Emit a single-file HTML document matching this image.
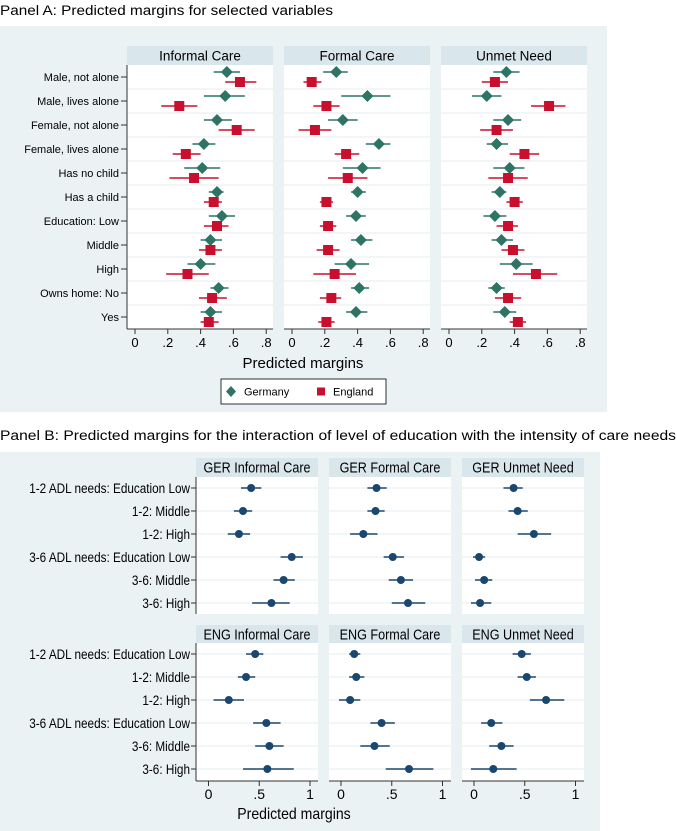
<!DOCTYPE html>
<html><head><meta charset="utf-8"><style>
body{margin:0;background:#fff;}
svg{display:block;font-family:"Liberation Sans",Arial,sans-serif;}
</style></head><body>
<svg id="chart" width="677" height="831" viewBox="0 0 677 831" xmlns="http://www.w3.org/2000/svg">
<text x="0" y="15" font-size="13.5" textLength="333" lengthAdjust="spacingAndGlyphs">Panel A: Predicted margins for selected variables</text>
<rect x="0" y="26" width="607" height="386" fill="#eaf2f3"/>
<text x="0" y="440" font-size="13.5" textLength="676" lengthAdjust="spacingAndGlyphs">Panel B: Predicted margins for the interaction of level of education with the intensity of care needs</text>
<rect x="0" y="452" width="600" height="379" fill="#eaf2f3"/>
<g id="pa"></g><g id="pb"></g>
<text x="303" y="368" font-size="15" text-anchor="middle">Predicted margins</text>
<g>
<rect x="221" y="379" width="165" height="25" fill="#fff" stroke="#000" stroke-width="0.8"/>
<path d="M231 386 L236 391.5 L231 397 L226 391.5Z" fill="#2d7464"/>
<text x="244" y="395.5" font-size="11">Germany</text>
<rect x="317" y="387.5" width="8" height="8" fill="#c8102e"/>
<text x="333" y="395.5" font-size="11">England</text>
</g>
<text x="294" y="819" font-size="16" text-anchor="middle" transform="translate(294 0) scale(0.88 1) translate(-294 0)">Predicted margins</text>
</svg>
<script>
// ---------- Panel A data ----------
const catsA = ["Male, not alone","Male, lives alone","Female, not alone","Female, lives alone","Has no child","Has a child","Education: Low","Middle","High","Owns home: No","Yes"];
const panelsA = ["Informal Care","Formal Care","Unmet Need"];
const gerInformal = [.56,.55,.50,.42,.41,.50,.53,.46,.40,.51,.46];
const gerInformalLo = [.48,.42,.42,.35,.30,.45,.45,.40,.32,.46,.40];
const gerInformalHi = [.64,.67,.59,.49,.52,.54,.61,.53,.49,.57,.53];
const engInformal = [.64,.27,.62,.31,.36,.48,.50,.46,.32,.47,.45];
const engInformalLo = [.55,.16,.51,.23,.21,.42,.42,.39,.19,.39,.40];
const engInformalHi = [.74,.38,.73,.40,.51,.53,.57,.53,.45,.56,.51];
const gerFormal = [.27,.46,.31,.53,.43,.40,.39,.42,.36,.41,.39];
const gerFormalLo = [.19,.30,.22,.45,.31,.36,.33,.36,.26,.36,.33];
const gerFormalHi = [.34,.60,.40,.60,.54,.45,.45,.49,.47,.47,.46];
const engFormal = [.12,.21,.14,.33,.34,.21,.22,.22,.26,.24,.21];
const engFormalLo = [.07,.13,.04,.26,.22,.17,.17,.15,.13,.17,.16];
const engFormalHi = [.18,.29,.24,.41,.46,.25,.27,.29,.39,.30,.26];
const gerUnmet = [.35,.23,.36,.29,.37,.31,.28,.32,.41,.29,.34];
const gerUnmetLo = [.27,.14,.27,.23,.27,.26,.21,.26,.31,.24,.27];
const gerUnmetHi = [.43,.32,.44,.36,.46,.35,.35,.39,.51,.34,.41];
const engUnmet = [.28,.61,.29,.46,.36,.40,.36,.39,.53,.36,.42];
const engUnmetLo = [.20,.50,.19,.37,.24,.35,.29,.32,.39,.28,.37];
const engUnmetHi = [.36,.71,.39,.55,.48,.45,.42,.46,.66,.44,.47];
const ticksA = [0,.2,.4,.6,.8];
const tickLabelsA = ["0",".2",".4",".6",".8"];

// ---------- Panel B data ----------
const catsB = ["1-2 ADL needs: Education Low","1-2: Middle","1-2: High","3-6 ADL needs: Education Low","3-6: Middle","3-6: High"];
const panelsB = ["GER Informal Care","GER Formal Care","GER Unmet Need","ENG Informal Care","ENG Formal Care","ENG Unmet Need"];
const bEst = [
 [.42,.34,.30,.82,.74,.62],
 [.35,.34,.22,.51,.59,.66],
 [.39,.43,.59,.05,.10,.06],
 [.46,.37,.20,.57,.60,.58],
 [.13,.15,.09,.40,.33,.67],
 [.47,.52,.71,.17,.27,.19]];
const bLo = [
 [.32,.25,.19,.71,.64,.43],
 [.26,.26,.09,.42,.47,.50],
 [.29,.34,.43,-.01,.01,-.03],
 [.37,.29,.05,.44,.46,.34],
 [.08,.08,-.02,.29,.19,.44],
 [.38,.43,.55,.07,.15,-.03]];
const bHi = [
 [.52,.43,.41,.93,.85,.80],
 [.45,.43,.36,.62,.71,.83],
 [.48,.53,.76,.11,.18,.17],
 [.54,.46,.35,.71,.74,.84],
 [.19,.23,.19,.53,.48,.91],
 [.56,.61,.89,.28,.39,.42]];
const ticksB = [0,.5,1];
const tickLabelsB = ["0",".5","1"];

const NS="http://www.w3.org/2000/svg";
function mk(parent,tag,attrs){const e=document.createElementNS(NS,tag);for(const k in attrs)e.setAttribute(k,attrs[k]);parent.appendChild(e);return e;}
const GREEN="#2d7464", RED="#c8102e", NAVY="#1a476f";

// Panel A
const pa=document.getElementById('pa');
const aLeft=[127,284,441], aW=146, aTop=65, aBot=329, aHdr=46;
const aRow0=77, aStep=24;
const aX0=[135,292,449], aScale=164;
const seriesA=[[gerInformal,gerInformalLo,gerInformalHi,engInformal,engInformalLo,engInformalHi],
 [gerFormal,gerFormalLo,gerFormalHi,engFormal,engFormalLo,engFormalHi],
 [gerUnmet,gerUnmetLo,gerUnmetHi,engUnmet,engUnmetLo,engUnmetHi]];
panelsA.forEach((name,p)=>{
  const xs=v=>aX0[p]+v*aScale;
  const g=mk(pa,'g',{});
  
  
  const hdr=mk(g,'rect',{x:aLeft[p],y:aHdr,width:aW,height:aTop-aHdr,fill:'#d9e6eb'});
  
  
  const ht=mk(g,'text',{x:aLeft[p]+aW/2,y:aHdr+14.5,'font-size':13.5,'text-anchor':'middle'});ht.textContent=name;
  
  
  mk(g,'rect',{x:aLeft[p],y:aTop,width:aW,height:aBot-aTop,fill:'#fff'});
  for(let i=1;i<catsA.length;i++){const y=aRow0+aStep*(i-0.5);mk(g,'line',{x1:aLeft[p],x2:aLeft[p]+aW,y1:y,y2:y,stroke:'#e4ecef','stroke-width':1});}
  mk(g,'line',{x1:aLeft[p],x2:aLeft[p]+aW,y1:aBot,y2:aBot,stroke:'#333','stroke-width':1});
  if(p===0){mk(g,'line',{x1:aLeft[p],x2:aLeft[p],y1:aTop,y2:aBot,stroke:'#333','stroke-width':1});}
  ticksA.forEach((t,k)=>{const x=xs(t);mk(g,'line',{x1:x,x2:x,y1:aBot,y2:aBot+5,stroke:'#333'});
    const tl=mk(g,'text',{x:x,y:aBot+18,'font-size':13,'text-anchor':'middle'});tl.textContent=tickLabelsA[k];
    
    });
  const s=seriesA[p];
  catsA.forEach((c,i)=>{
    const yc=aRow0+aStep*i, yg=yc-5, ye=yc+5;
    mk(g,'line',{x1:xs(s[1][i]),x2:xs(s[2][i]),y1:yg,y2:yg,stroke:GREEN,'stroke-width':1.5});
    const d=mk(g,'path',{d:`M${xs(s[0][i])} ${yg-6} L${xs(s[0][i])+6} ${yg} L${xs(s[0][i])} ${yg+6} L${xs(s[0][i])-6} ${yg}Z`,fill:GREEN});
    
    
    mk(g,'line',{x1:xs(s[4][i]),x2:xs(s[5][i]),y1:ye,y2:ye,stroke:RED,'stroke-width':1.5});
    const q=mk(g,'rect',{x:xs(s[3][i])-5,y:ye-5,width:10,height:10,fill:RED});
    
    
  });
});
catsA.forEach((c,i)=>{const y=aRow0+aStep*i;
  mk(pa,'line',{x1:121,x2:127,y1:y,y2:y,stroke:'#333'});
  const t=mk(pa,'text',{x:119,y:y+4,'font-size':11,'text-anchor':'end'});t.textContent=c;
  
  });

// Panel B
const pb=document.getElementById('pb');
const bLeft=[196,329,462], bW=122;
const bHdrs=[458,625], bTops=[477,643], bBots=[614,781], bRow0=[488,654], bStep=23;
const bX0=[208.5,341,474], bScale=101.5;
panelsB.forEach((name,k)=>{
  const p=k%3, r=Math.floor(k/3);
  const xs=v=>bX0[p]+v*bScale;
  const g=mk(pb,'g',{});
  
  
  mk(g,'rect',{x:bLeft[p],y:bHdrs[r],width:bW,height:bTops[r]-bHdrs[r],fill:'#d9e6eb'});
  const cx=bLeft[p]+bW/2;
  const ht=mk(g,'text',{x:cx,y:bHdrs[r]+14.5,'font-size':15,'text-anchor':'middle',transform:`translate(${cx} 0) scale(0.84 1) translate(${-cx} 0)`});ht.textContent=name;
  
  
  mk(g,'rect',{x:bLeft[p],y:bTops[r],width:bW,height:bBots[r]-bTops[r],fill:'#fff'});
  catsB.forEach((c,i)=>{const y=bRow0[r]+bStep*i;mk(g,'line',{x1:bLeft[p],x2:bLeft[p]+bW,y1:y,y2:y,stroke:'#e4ecef'});});
  if(p===0) mk(g,'line',{x1:bLeft[p],x2:bLeft[p],y1:bTops[r],y2:bBots[r],stroke:'#333'});
  if(r===1){
    mk(g,'line',{x1:bLeft[p],x2:bLeft[p]+bW,y1:bBots[r],y2:bBots[r],stroke:'#333'});
    ticksB.forEach((t,j)=>{const x=xs(t);mk(g,'line',{x1:x,x2:x,y1:bBots[r],y2:bBots[r]+5,stroke:'#333'});
      const tl=mk(g,'text',{x:x,y:bBots[r]+18,'font-size':14,'text-anchor':'middle'});tl.textContent=tickLabelsB[j];
      
      });
  }
  catsB.forEach((c,i)=>{const y=bRow0[r]+bStep*i;
    mk(g,'line',{x1:xs(bLo[k][i]),x2:xs(bHi[k][i]),y1:y,y2:y,stroke:NAVY,'stroke-width':1.5});
    const d=mk(g,'circle',{cx:xs(bEst[k][i]),cy:y,r:4,fill:NAVY});
    
    });
});
[0,1].forEach(r=>catsB.forEach((c,i)=>{const y=bRow0[r]+bStep*i;
  mk(pb,'line',{x1:191,x2:196,y1:y,y2:y,stroke:'#333'});
  const t=mk(pb,'text',{x:190,y:y+5,'font-size':14,'text-anchor':'end',transform:`translate(190 0) scale(0.84 1) translate(-190 0)`});t.textContent=c;
  
  }));
</script>
</body></html>
